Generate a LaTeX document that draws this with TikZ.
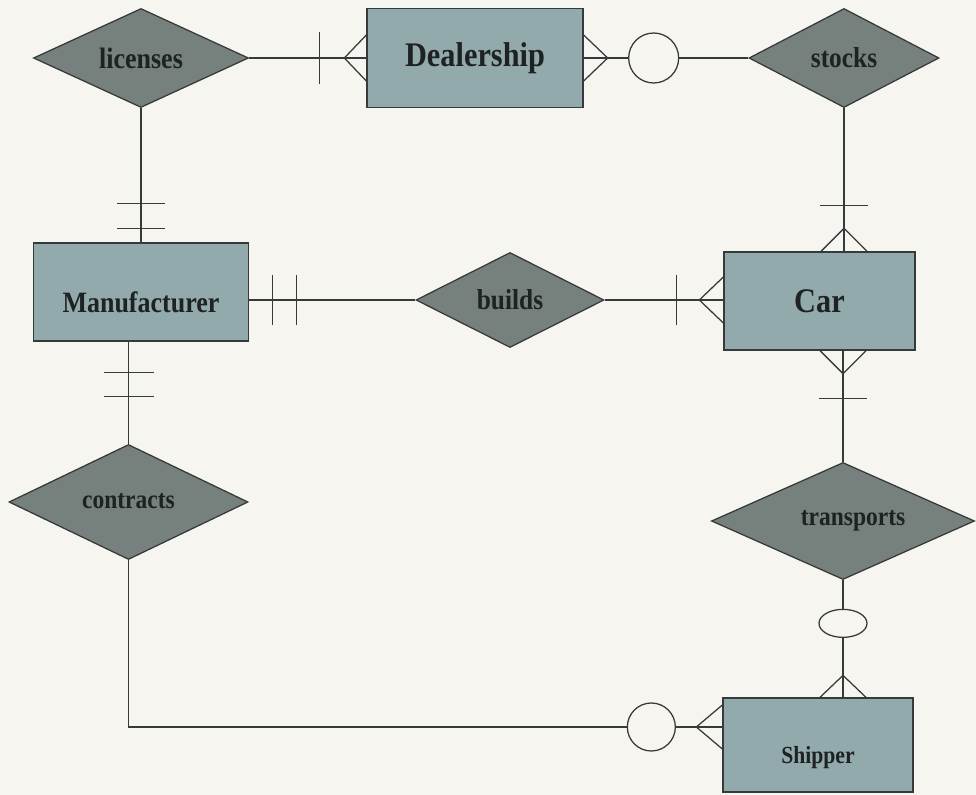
\documentclass[tikz,border=0pt]{standalone}
\usepackage{fontspec}
\newfontfamily\erfont[FakeStretch=0.88]{Liberation Serif}
\usetikzlibrary{shapes.geometric}
\definecolor{paper}{RGB}{246,245,240}
\definecolor{entfill}{RGB}{146,170,172}
\definecolor{relfill}{RGB}{118,128,125}
\definecolor{ink}{RGB}{55,58,58}
\definecolor{txt}{RGB}{30,34,34}
\begin{document}
\begin{tikzpicture}[x=0.025cm, y=-0.025cm, line width=0.9pt,
  entity/.style={draw=ink, fill=entfill, inner sep=0pt, text=txt},
  relation/.style={diamond, draw=ink, fill=relfill, inner sep=0pt, shape aspect=2, text=txt},
  er/.style={font=\erfont\bfseries\fontsize{#1}{#1}\selectfont},
  link/.style={draw=ink},
  hole/.style={draw=ink, fill=paper}]
\fill [paper] (0,0) rectangle (976,795);
\useasboundingbox (0,0) rectangle (976,795);

\node [relation, er=21pt, minimum width=5.375cm, minimum height=2.475cm] (licenses) at (141,58) {licenses};
\node [entity, er=24.5pt, minimum width=5.4cm, minimum height=2.475cm] (dealer) at (475,58) {Dealership};
\node [relation, er=20.5pt, minimum width=4.75cm, minimum height=2.475cm] (stocks) at (844,58) {stocks};
\node [entity, er=21pt, minimum width=5.375cm, minimum height=2.45cm, text height=29pt, text depth=0pt] (maker) at (141,292) {Manufacturer};
\node [relation, er=20.5pt, minimum width=4.7cm, minimum height=2.375cm] (builds) at (510,300) {builds};
\node [entity, er=24.5pt, minimum width=4.775cm, minimum height=2.45cm] (car) at (819.5,301) {Car};
\node [relation, er=19pt, minimum width=5.975cm, minimum height=2.875cm, text height=13pt, text depth=4pt] (contracts) at (128.5,502) {contracts};
\node [relation, er=19pt, minimum width=6.575cm, minimum height=2.925cm] (transports) at (843,521) {\hspace*{0.5cm}transports};
\node [entity, er=17.5pt, minimum width=4.75cm, minimum height=2.35cm, text height=30pt, text depth=3.8pt] (shipper) at (818,745) {Shipper};

% licenses -- Dealership
\draw [link] (licenses.east) -- (dealer.west);
\draw [link] (dealer.west) ++(-47,-26) -- ++(0,52);
\draw [link] (dealer.west) ++(0,-23) -- ++(-22,23) -- ++(22,23);

% Dealership -- stocks
\draw [link] (dealer.east) -- (stocks.west);
\draw [link] (dealer.east) ++(0,-23) -- ++(24,23) -- ++(-24,23);
\draw [hole] (dealer.east) ++(70,0) circle [radius=25];

% stocks -- Car
\draw [link] (stocks.south) -- (stocks.south |- car.north);
\draw [link] (stocks.south |- car.north) ++(-24,-46) -- ++(48,0);
\draw [link] (stocks.south |- car.north) ++(-23,0) -- ++(23,-23) -- ++(23,23);

% licenses -- Manufacturer
\draw [link] (licenses.south) -- (maker.north);
\draw [link] (maker.north) ++(-24,-39) -- ++(48,0);
\draw [link] (maker.north) ++(-24,-14) -- ++(48,0);

% Manufacturer -- builds
\draw [link] (builds.west -| maker.east) -- (builds.west);
\draw [link] (builds.west -| maker.east) ++(23,-25) -- ++(0,50);
\draw [link] (builds.west -| maker.east) ++(47,-25) -- ++(0,50);

% builds -- Car
\draw [link] (builds.east) -- (builds.east -| car.west);
\draw [link] (builds.east -| car.west) ++(-47,-25) -- ++(0,50);
\draw [link] (builds.east -| car.west) ++(0,-23) -- ++(-24,23) -- ++(24,23);

% Car -- transports
\draw [link] (transports.north |- car.south) -- (transports.north);
\draw [link] (transports.north |- car.south) ++(-23,0) -- ++(23,23) -- ++(23,-23);
\draw [link] (transports.north |- car.south) ++(-24,48) -- ++(48,0);

% Manufacturer -- contracts
\draw [link] (contracts.north |- maker.south) -- (contracts.north);
\draw [link] (contracts.north |- maker.south) ++(-25,31) -- ++(50,0);
\draw [link] (contracts.north |- maker.south) ++(-25,55) -- ++(50,0);

% contracts -- Shipper
\coordinate (shipin) at ([yshift=0.45cm]shipper.west);
\draw [link] (contracts.south) |- (shipin);
\draw [link] (shipin) ++(0,-22) -- ++(-26,22) -- ++(26,22);
\draw [hole] (shipin) ++(-71,0) circle [radius=24];

% transports -- Shipper
\draw [link] (transports.south) -- (transports.south |- shipper.north);
\draw [link] (transports.south |- shipper.north) ++(-23,0) -- ++(23,-22) -- ++(23,22);
\draw [hole] (transports.south |- shipper.north) ++(0,-74) ellipse [x radius=24, y radius=14];
\end{tikzpicture}
\end{document}
